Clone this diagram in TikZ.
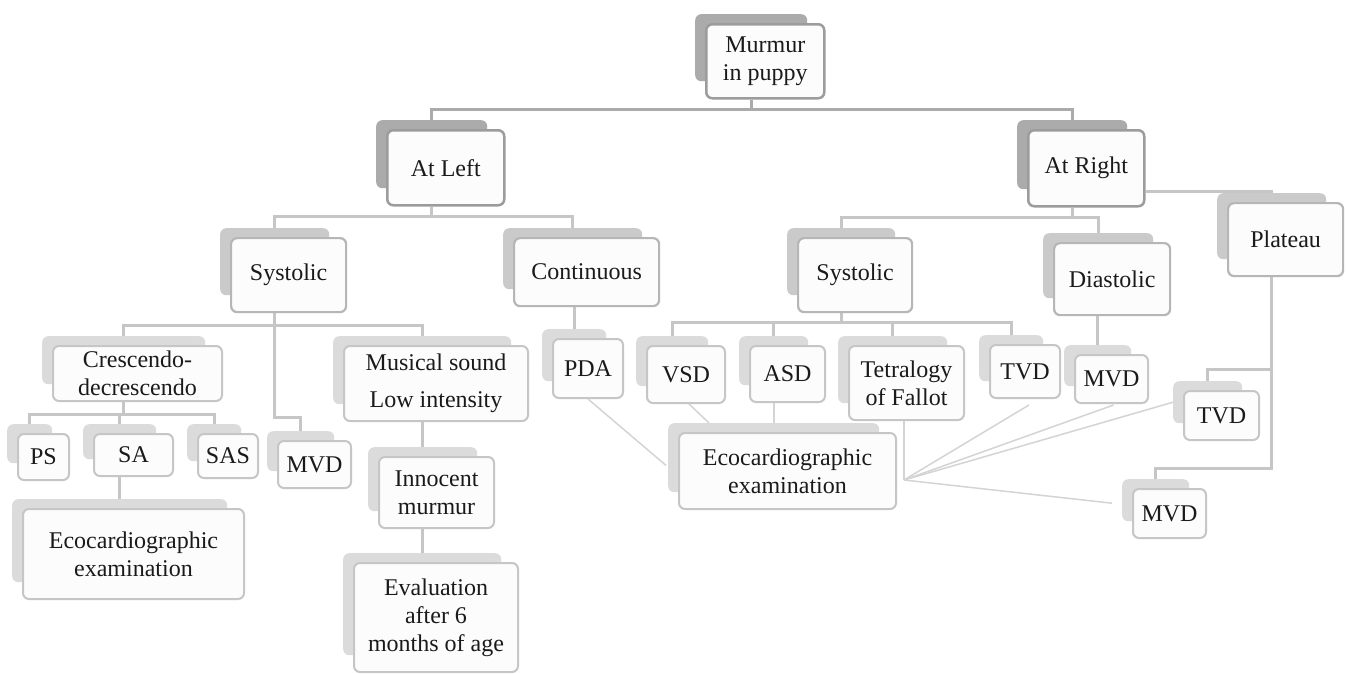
\documentclass[tikz,border=0pt]{standalone}
\usepackage{fontspec}
\setmainfont{Liberation Serif}
\usetikzlibrary{calc}
\pgfdeclarelayer{bg}
\pgfsetlayers{bg,main}
\definecolor{bdA}{HTML}{9C9C9C}
\definecolor{shA}{HTML}{ABABAB}
\definecolor{bdB}{HTML}{B6B6B6}
\definecolor{shB}{HTML}{CACACA}
\definecolor{bdC}{HTML}{C6C6C6}
\definecolor{shC}{HTML}{DBDBDB}
\definecolor{lnA}{HTML}{ABABAB}
\definecolor{lnB}{HTML}{C6C6C6}
\definecolor{lnC}{HTML}{D4D4D4}
\definecolor{txt}{HTML}{1A1A1A}
\definecolor{frontfill}{HTML}{FCFCFC}
\tikzset{
  x=1pt, y=-1pt,
  shadowA/.style={fill=shA, draw=none, rounded corners=6pt, inner sep=0pt},
  shadowB/.style={fill=shB, draw=none, rounded corners=6pt, inner sep=0pt},
  shadowC/.style={fill=shC, draw=none, rounded corners=6pt, inner sep=0pt},
  frontbase/.style={fill=frontfill, rounded corners=6pt, inner sep=0pt, align=center,
    text=txt, font=\fontsize{24}{28}\selectfont},
  frontA/.style={frontbase, draw=bdA, line width=2.5pt},
  frontB/.style={frontbase, draw=bdB, line width=2.2pt},
  frontC/.style={frontbase, draw=bdC, line width=2pt},
  conA/.style={draw=lnA, line width=3pt},
  conB/.style={draw=lnB, line width=3pt},
  conC/.style={draw=lnC, line width=2pt},
  fanl/.style={draw=lnC, line width=1.5pt},
}
% #1 name, #2 x1, #3 y1, #4 x2, #5 y2, #6 tier, #7 text
\newcommand{\tbox}[7]{%
  \pgfmathsetmacro\bw{#4-#2}\pgfmathsetmacro\bh{#5-#3}%
  \node[shadow#6, minimum width=(\bw-6)*1pt, minimum height=(\bh-7)*1pt, anchor=north west]
    (sh#1) at (#2-10,#3-9) {};
  \node[front#6, minimum width=\bw pt, minimum height=\bh pt, anchor=north west]
    (#1) at (#2,#3) {#7};
}
\begin{document}
\begin{tikzpicture}
\useasboundingbox (0,0) rectangle (1346,673);

\tbox{mp}{705}{23}{823}{97}{A}{Murmur\\in puppy}
\tbox{al}{386}{129}{503}{204}{A}{At Left}
\tbox{ar}{1027}{129}{1143}{205}{A}{At Right}
\tbox{sl}{230}{237}{345}{311}{B}{Systolic}
\tbox{co}{513}{237}{658}{305}{B}{Continuous}
\tbox{sr}{797}{237}{911}{311}{B}{Systolic}
\tbox{di}{1053}{242}{1169}{314}{B}{Diastolic}
\tbox{pl}{1227}{202}{1342}{275}{B}{Plateau}
\tbox{cr}{52}{345}{221}{400}{C}{Crescendo-\\decrescendo}
\tbox{mu}{343}{345}{527}{420}{C}{Musical sound\\[9pt]Low intensity}
\tbox{mvl}{277}{440}{350}{487}{C}{MVD}
\tbox{ps}{17}{433}{68}{479}{C}{PS}
\tbox{sa}{93}{433}{172}{475}{C}{SA}
\tbox{sax}{197}{433}{257}{477}{C}{SAS}
\tbox{ecl}{22}{508}{243}{598}{C}{Ecocardiographic\\examination}
\tbox{inn}{378}{456}{493}{527}{C}{Innocent\\murmur}
\tbox{ev}{353}{562}{517}{671}{C}{Evaluation\\after 6\\months of age}
\tbox{pda}{552}{338}{622}{397}{C}{PDA}
\tbox{vsd}{646}{345}{724}{402}{C}{VSD}
\tbox{asd}{749}{345}{824}{401}{C}{ASD}
\tbox{tet}{848}{345}{963}{419}{C}{Tetralogy\\of Fallot}
\tbox{tvd}{989}{344}{1059}{397}{C}{TVD}
\tbox{mvd}{1074}{354}{1147}{402}{C}{MVD}
\tbox{tvb}{1183}{390}{1258}{439}{C}{TVD}
\tbox{mvb}{1132}{488}{1205}{537}{C}{MVD}
\tbox{eco}{678}{432}{895}{508}{C}{Ecocardiographic\\examination}

\begin{pgfonlayer}{bg}
\fill[white] (0,0) rectangle (1346,673);
% level 0
\draw[conA] (shmp.south |- mp.south) -- ++(0,10) coordinate (b0);
\draw[conA] (b0) -| (shal.north);
\draw[conA] (b0) -| (shar.north);
% At Left
\draw[conB] (shal.south |- al.south) -- ++(0,10) coordinate (b1);
\draw[conB] (b1) -| (shsl.north);
\draw[conB] (b1) -| (shco.north);
% At Right
\draw[conB] (shar.south |- ar.south) -- ++(0,10) coordinate (b2);
\draw[conB] (b2) -| (shsr.north);
\draw[conB] (b2) -| (shdi.north);
\draw[conB] ($(ar.south east)+(0,-16)$) -| (shpl.north);
% Systolic left
\draw[conB] (shsl.south |- sl.south) -- ++(0,12) coordinate (b3);
\draw[conB] (b3) -| (shcr.north);
\draw[conB] (b3) -| (shmu.north);
\draw[conB] (b3) -- ($(b3 |- shmvl.north)+(0,-14)$) -| (shmvl.north);
% Crescendo
\draw[conB] (shcr.south |- cr.south) -- ++(0,12) coordinate (b4);
\draw[conB] (b4) -| (shps.north);
\draw[conB] (b4) -| (shsa.north);
\draw[conB] (b4) -| (shsax.north);
\draw[conB] (shsa.south |- sa.south) -- (shsa.south |- shecl.north);
% Musical
\draw[conB] (shinn.north |- mu.south) -- (shinn.north);
\draw[conB] (shev.north |- inn.south) -- (shev.north);
% Continuous
\draw[conB] (shpda.north |- co.south) -- (shpda.north);
% Systolic right
\draw[conB] (shsr.south |- sr.south) -- ++(0,9) coordinate (b5);
\draw[conB] (b5) -| (shvsd.north);
\draw[conB] (b5) -| (shasd.north);
\draw[conB] (b5) -| (shtet.north);
\draw[conB] (b5) -| (shtvd.north);
% Diastolic
\draw[conB] (shmvd.north |- di.south) -- (shmvd.north);
% Plateau
\draw[conB] (shpl.south |- pl.south) |- ($(shmvb.north)+(0,-11)$) -- (shmvb.north);
\draw[conB] ($(shpl.south |- shtvb.north)+(0,-12)$) -| (shtvb.north);
% Ecocardiographic (middle)
\draw[fanl] (pda.south) -- ($(sheco.south west)+(-2,-27)$);
\draw[fanl] ($(vsd.south)+(3,0)$) -- ($(sheco.north west)+(41,0)$);
\draw[conC] (shasd.south |- asd.south) -- (shasd.south |- sheco.north);
\coordinate (fan) at ($(eco.south east)+(7,-30)$);
\draw[conC] (fan |- tet.south) -- (fan);
\draw[fanl] (fan) -- ($(tvd.south)+(4,6)$);
\draw[fanl] (fan) -- ($(mvd.south)+(2,1)$);
\draw[fanl] (fan) -- (shtvb.west);
\draw[fanl] (fan) -- ($(shmvb.west)+(-10,3)$);
\end{pgfonlayer}
\end{tikzpicture}
\end{document}
